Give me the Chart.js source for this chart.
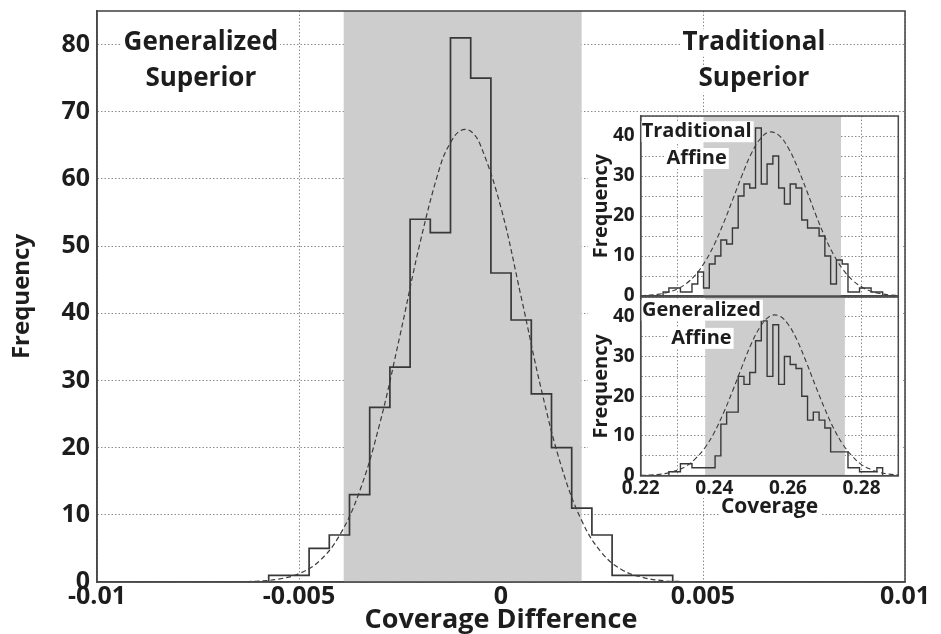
<!DOCTYPE html>
<html>
<head>
<meta charset="utf-8">
<script src="https://cdn.jsdelivr.net/npm/chart.js@4.4.1/dist/chart.umd.min.js"></script>
<style>
  body { margin: 0; background: #fff; }
  #wrap { position: relative; width: 941px; height: 634px; overflow: hidden; }
  canvas { position: absolute; }
</style>
</head>
<body>
<div id="wrap">
  <canvas id="main" width="941" height="634" style="left:0;top:0"></canvas>
  <canvas id="insetBot" width="315" height="224" style="left:588px;top:296px"></canvas>
  <canvas id="insetTop" width="315" height="188" style="left:588px;top:113px"></canvas>
</div>
<script>
// ---- main panel: coverage difference histogram ----
const diffBins = [-0.0055, -0.005, -0.0045, -0.004, -0.0035, -0.003, -0.0025, -0.002, -0.0015, -0.001,
                  -0.0005, 0, 0.0005, 0.001, 0.0015, 0.002, 0.0025, 0.003, 0.0035, 0.004];
const diffCounts = [1, 1, 5, 7, 13, 26, 32, 54, 52, 81, 75, 46, 39, 28, 20, 11, 7, 1, 1, 1];
const diffBinWidth = 0.0005;
// fitted normal curve
const diffFitX = [-0.0065, -0.006, -0.0055, -0.005, -0.0045, -0.004, -0.0035, -0.003, -0.0025, -0.002,
                  -0.0015, -0.00125, -0.001, -0.00075, -0.0005, 0, 0.0005, 0.001, 0.0015, 0.002,
                  0.0025, 0.003, 0.0035, 0.004, 0.0045];
const diffFitY = [0.04, 0.14, 0.44, 1.24, 3.1, 6.9, 13.5, 23.6, 36.7, 50.6,
                  62.0, 65.4, 67.2, 67.1, 64.9, 55.7, 42.4, 28.6, 17.1, 9.1,
                  4.3, 1.8, 0.7, 0.2, 0.07];
const diffBand = [-0.0039, 0.002];
const diffTicks = [-0.01, -0.005, 0, 0.005, 0.01];
const freqTicks = [0, 10, 20, 30, 40, 50, 60, 70, 80];

// ---- insets: coverage histograms ----
const covBins = [0.22059, 0.22216, 0.22373, 0.2253, 0.22687, 0.22844, 0.23001, 0.23158, 0.23315, 0.23472,
                 0.23629, 0.23786, 0.23943, 0.241, 0.24257, 0.24414, 0.24571, 0.24728, 0.24885, 0.25042,
                 0.25199, 0.25356, 0.25513, 0.2567, 0.25827, 0.25984, 0.26141, 0.26298, 0.26455, 0.26612,
                 0.26769, 0.26926, 0.27083, 0.2724, 0.27397, 0.27554, 0.27711, 0.27868, 0.28025, 0.28182,
                 0.28339, 0.28496, 0.28653, 0.2881];
const covBinWidth = 0.00157;
const tradCounts = [0, 0, 0, 0, 1, 2, 2, 1, 1, 3,
                    6, 2, 8, 10, 14, 13, 17, 25, 28, 27,
                    42, 28, 33, 35, 27, 23, 28, 27, 19, 17,
                    17, 15, 10, 3, 9, 8, 1, 1, 2, 2,
                    1, 1, 0, 0];
const genCounts = [0, 0, 0, 0, 0, 1, 1, 3, 3, 2,
                   2, 2, 2, 5, 13, 16, 16, 25, 23, 26,
                   34, 39, 25, 38, 23, 30, 28, 27, 20, 14,
                   16, 14, 12, 6, 6, 6, 2, 2, 1, 1,
                   1, 2, 0, 0];
const covFitX = [0.22, 0.2225, 0.225, 0.2275, 0.23, 0.2325, 0.235, 0.2375, 0.24, 0.2425,
                 0.245, 0.2475, 0.25, 0.2525, 0.255, 0.2575, 0.26, 0.2625, 0.265, 0.2675,
                 0.27, 0.2725, 0.275, 0.2775, 0.28, 0.2825, 0.285, 0.2875, 0.29];
const tradFitY = [0.10, 0.22, 0.47, 0.95, 1.8, 3.2, 5.4, 8.6, 12.9, 18.2,
                  24.1, 30.1, 35.5, 39.3, 41.0, 40.2, 37.2, 32.4, 26.6, 20.5,
                  14.9, 10.2, 6.6, 4.0, 2.3, 1.2, 0.63, 0.30, 0.13];
const genFitY = [0.07, 0.16, 0.34, 0.71, 1.4, 2.5, 4.4, 7.1, 10.9, 15.8,
                 21.4, 27.4, 33.1, 37.5, 40.1, 40.3, 38.2, 34.1, 28.6, 22.6,
                 16.9, 11.8, 7.8, 4.9, 2.8, 1.6, 0.82, 0.40, 0.18];
const tradBand = [0.237, 0.2745];
const genBand = [0.2375, 0.2755];
const covTicks = [0.22, 0.23, 0.24, 0.25, 0.26, 0.27, 0.28, 0.29];
const covLabels = [0.22, 0.24, 0.26, 0.28];
const insetFreqTicks = [0, 5, 10, 15, 20, 25, 30, 35, 40, 45];
const insetFreqLabels = [0, 10, 20, 30, 40];

const FONT = "'Open Sans', 'DejaVu Sans', sans-serif";
const INK = '#1d1d1d';
const LINE = '#383838';

// histogram outline: one point per left bin edge, stepped
function stairs(centers, counts, w) {
  const pts = [{x: centers[0] - w / 2, y: 0}];
  centers.forEach((c, i) => pts.push({x: c - w / 2, y: counts[i]}));
  pts.push({x: centers[centers.length - 1] + w / 2, y: 0});
  return pts;
}

// fixed axis box, no extra room reserved for half tick labels
function fixBox(size) {
  return s => {
    if (s.isHorizontal()) s.height = size; else s.width = size;
    s.paddingTop = 0; s.paddingBottom = 0; s.paddingLeft = 0; s.paddingRight = 0;
  };
}

const paper = {
  id: 'paper',
  beforeDraw(chart, args, opts) {
    const ctx = chart.ctx;
    ctx.save();
    ctx.fillStyle = '#fff';
    (opts.rects || []).forEach(r => ctx.fillRect(r[0], r[1], r[2], r[3]));
    ctx.restore();
  }
};

// text labels inside the plot, white box behind each line
const notes = {
  id: 'notes',
  afterDraw(chart, args, opts) {
    const {ctx, scales} = chart;
    (opts.items || []).forEach(n => {
      ctx.save();
      ctx.font = 'bold ' + n.size + 'px ' + FONT;
      ctx.textAlign = 'center';
      ctx.textBaseline = 'alphabetic';
      const cx = scales.x.getPixelForValue(n.x);
      n.lines.forEach((t, i) => {
        const by = scales.y.getPixelForValue(n.y[i]);
        const w = ctx.measureText(t).width;
        ctx.fillStyle = '#fff';
        ctx.fillRect(cx - w / 2 - 2, by - n.size * 0.8, w + 4, n.size * 1.05);
        ctx.fillStyle = INK;
        ctx.fillText(t, cx, by);
      });
      ctx.restore();
    });
  }
};

const frame = {
  id: 'frame',
  afterDraw(chart, args, opts) {
    const {ctx, chartArea: a} = chart;
    ctx.save();
    ctx.strokeStyle = opts.color || '#444';
    ctx.lineWidth = opts.width || 1.5;
    ctx.strokeRect(a.left, a.top, a.right - a.left, a.bottom - a.top);
    ctx.restore();
  }
};

function bandSet(band, top) {
  return {
    data: [{x: band[0], y: top}, {x: band[1], y: top}],
    fill: 'origin', backgroundColor: '#cdcdcd', borderWidth: 0,
    pointRadius: 0, order: 3
  };
}

function histSet(centers, counts, w, lw) {
  return {
    data: stairs(centers, counts, w), stepped: 'before',
    borderColor: LINE, borderWidth: lw, pointRadius: 0, fill: false, order: 2
  };
}

function fitSet(xs, ys, lw) {
  return {
    data: xs.map((x, i) => ({x: x, y: ys[i]})),
    borderColor: '#3c3c3c', borderWidth: lw, borderDash: [5, 3],
    pointRadius: 0, fill: false, tension: 0.4, order: 1
  };
}

const gridOpts = {color: '#8c8c8c', lineWidth: 1, drawTicks: false};
const borderOpts = {color: '#444', width: 1.5, dash: [1.5, 2]};

// main chart
new Chart(document.getElementById('main'), {
  type: 'line',
  data: {
    datasets: [
      fitSet(diffFitX, diffFitY, 1.2),
      histSet(diffBins, diffCounts, diffBinWidth, 1.7),
      bandSet(diffBand, 85)
    ]
  },
  options: {
    responsive: false, animation: false, devicePixelRatio: 1,
    layout: {padding: {left: 0, top: 11, right: 36, bottom: 0}},
    plugins: {
      legend: {display: false}, tooltip: {enabled: false},
      notes: {items: [
        {x: -0.00743, y: [79.2, 73.8], lines: ['Generalized', 'Superior'], size: 26},
        {x: 0.00626, y: [79.2, 73.8], lines: ['Traditional', 'Superior'], size: 26}
      ]},
      frame: {color: '#4a4a4a', width: 1.6}
    },
    scales: {
      x: {
        type: 'linear', min: -0.01, max: 0.01, z: 1,
        afterBuildTicks: s => { s.ticks = diffTicks.map(v => ({value: v})); },
        afterFit: fixBox(52),
        grid: gridOpts, border: borderOpts,
        ticks: {color: INK, padding: 0, maxRotation: 0, font: {family: FONT, size: 25, weight: 'bold'},
                callback: v => String(v)},
        title: {display: true, text: 'Coverage Difference', color: INK, padding: {top: 0, bottom: -3},
                font: {family: FONT, size: 27, weight: 'bold'}}
      },
      y: {
        type: 'linear', min: 0, max: 85, z: 1,
        afterBuildTicks: s => { s.ticks = freqTicks.map(v => ({value: v})); },
        afterFit: fixBox(97),
        grid: gridOpts, border: borderOpts,
        ticks: {color: INK, padding: 7, font: {family: FONT, size: 25, weight: 'bold'}},
        title: {display: true, text: 'Frequency', color: INK, padding: {top: 7.6, bottom: 0},
                font: {family: FONT, size: 24, weight: 'bold'}}
      }
    }
  },
  plugins: [notes, frame]
});

function insetOptions(showX, padding, xHeight, paperRects, note) {
  return {
    responsive: false, animation: false, devicePixelRatio: 1,
    layout: {padding: padding},
    plugins: {
      legend: {display: false}, tooltip: {enabled: false},
      paper: {rects: paperRects},
      notes: {items: [note]},
      frame: {color: '#4a4a4a', width: 1.5}
    },
    scales: {
      x: {
        type: 'linear', min: 0.22, max: 0.29, z: 1,
        afterBuildTicks: s => { s.ticks = covTicks.map(v => ({value: v})); },
        afterFit: fixBox(xHeight),
        grid: gridOpts, border: borderOpts,
        ticks: {display: showX, color: INK, padding: 1, maxRotation: 0, autoSkip: false,
                font: {family: FONT, size: 19, weight: 'bold'},
                callback: v => covLabels.some(l => Math.abs(l - v) < 1e-9) ? v.toFixed(2) : ''},
        title: {display: showX, text: 'Coverage', color: INK, padding: {top: 0, bottom: 0},
                font: {family: FONT, size: 21, weight: 'bold'}}
      },
      y: {
        type: 'linear', min: 0, max: 45, z: 1,
        afterBuildTicks: s => { s.ticks = insetFreqTicks.map(v => ({value: v})); },
        afterFit: fixBox(52.7),
        grid: gridOpts, border: borderOpts,
        ticks: {color: INK, padding: 6, autoSkip: false, font: {family: FONT, size: 19, weight: 'bold'},
                callback: v => insetFreqLabels.includes(v) ? String(v) : ''},
        title: {display: true, text: 'Frequency', color: INK, padding: {top: 1.7, bottom: 0},
                font: {family: FONT, size: 20, weight: 'bold'}}
      }
    }
  };
}

// top inset canvas sits above the bottom one so its "0" label is not covered
new Chart(document.getElementById('insetTop'), {
  type: 'line',
  data: {
    datasets: [
      fitSet(covFitX, tradFitY, 1.1),
      histSet(covBins, tradCounts, covBinWidth, 1.4),
      bandSet(tradBand, 45)
    ]
  },
  options: insetOptions(false, {left: 0, top: 3, right: 4.7, bottom: 5}, 0,
    [[0, 0, 315, 183]],
    {x: 0.2352, y: [39.7, 33.0], lines: ['Traditional', 'Affine'], size: 20}),
  plugins: [paper, notes, frame]
});

new Chart(document.getElementById('insetBot'), {
  type: 'line',
  data: {
    datasets: [
      fitSet(covFitX, genFitY, 1.1),
      histSet(covBins, genCounts, covBinWidth, 1.4),
      bandSet(genBand, 45)
    ]
  },
  options: insetOptions(true, {left: 0, top: 1, right: 4.7, bottom: 0}, 44.3,
    [[0, 0, 315, 202], [131, 200, 102, 24]],
    {x: 0.2365, y: [40.3, 33.2], lines: ['Generalized', 'Affine'], size: 20}),
  plugins: [paper, notes, frame]
});
</script>
</body>
</html>
